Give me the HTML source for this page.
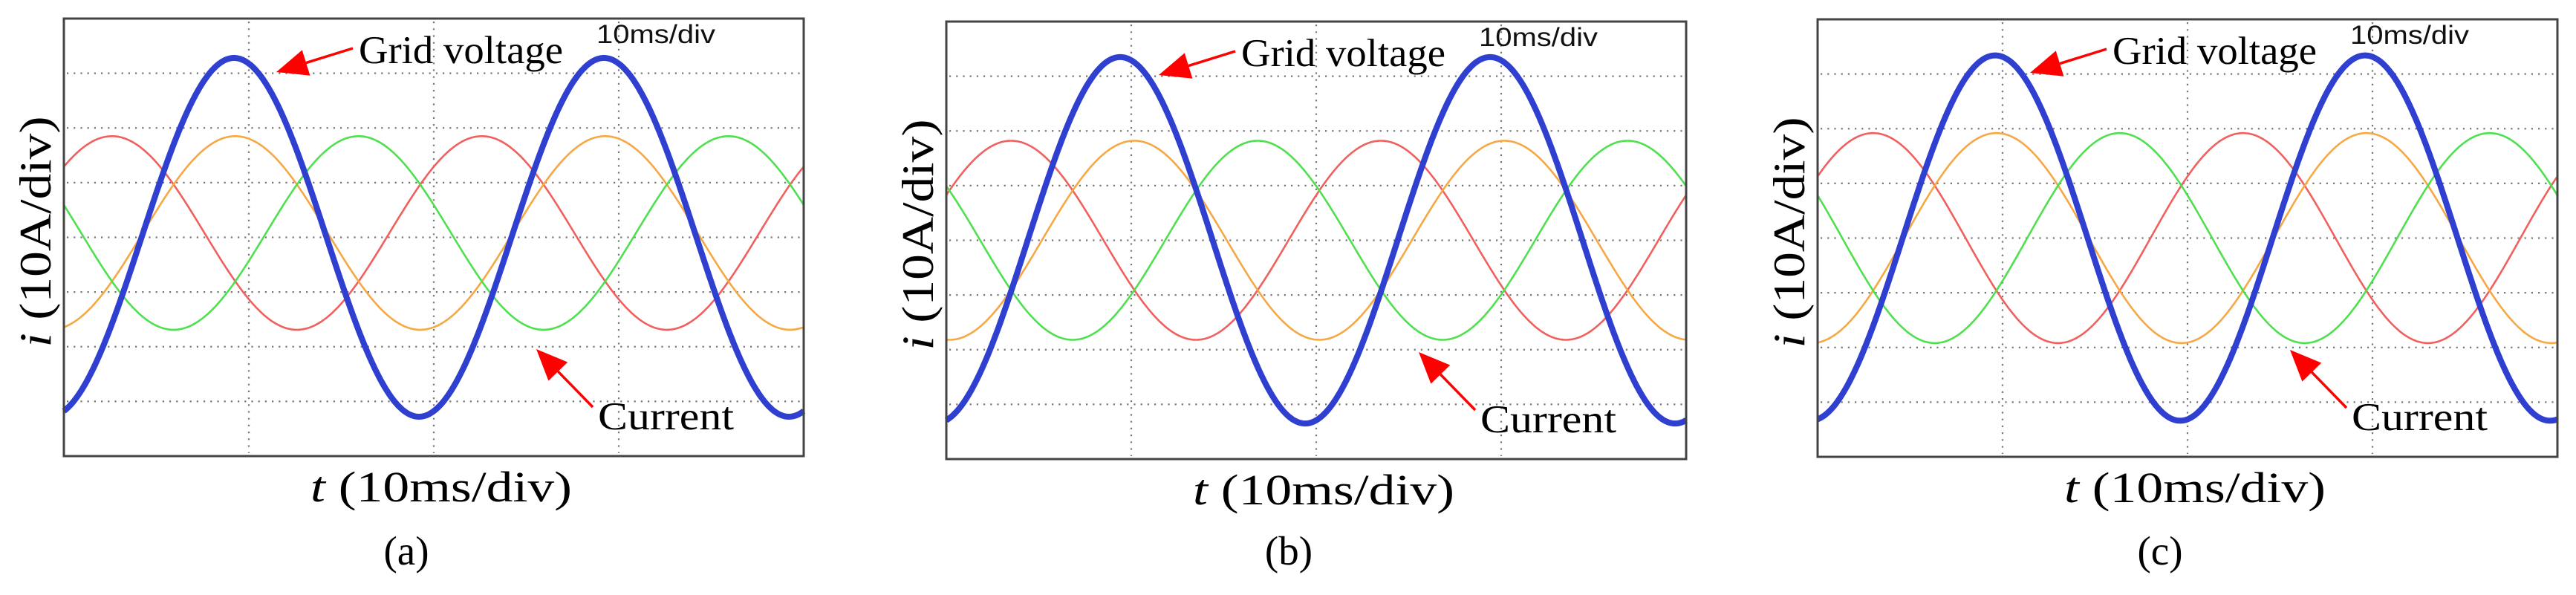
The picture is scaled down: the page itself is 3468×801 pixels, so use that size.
<!DOCTYPE html>
<html><head><meta charset="utf-8"><style>
html,body{margin:0;padding:0;background:#fff;}
svg{display:block;}
</style></head><body>
<svg id="fig" width="3468" height="801" viewBox="0 0 3468 801" xmlns="http://www.w3.org/2000/svg"></svg>
<script>
// Panel data. Time axis: 0-40 ms (10 ms/div), vertical: 8 div (10 A/div), 0 = centre.
const panelLabels = ['(a)', '(b)', '(c)'];
const voltagePeakMs = [9.2, 9.4, 9.6];     // time of first grid voltage peak
const voltageAmpDiv = [3.28, 3.35, 3.34];  // grid voltage amplitude in divisions
const currentPeakMs = [2.6, 3.5, 3.0];     // time of first red-phase current peak
const currentAmpDiv = [1.77, 1.82, 1.92];  // current amplitude in divisions
const currentOffsetDiv = [0.08, 0.0, 0.0];
const periodMs = [20, 20, 20];
const xTicks = [0, 10, 20, 30, 40];
const yTicks = [-4, -3, -2, -1, 0, 1, 2, 3, 4];

const NS = 'http://www.w3.org/2000/svg';
const svg = document.getElementById('fig');
const panelX = [86, 1274, 2447], panelY = [25, 29, 26];
const W = 996, H = 589;
const SERIF = "'Liberation Serif', serif";
const SANS = "'Liberation Sans', sans-serif";
function mk(tag, attrs, parent) {
  const e = document.createElementNS(NS, tag);
  for (const k in attrs) e.setAttribute(k, attrs[k]);
  parent.appendChild(e);
  return e;
}
const phaseColors = ['#f0605e', '#f5a843', '#4fe04f'];
const phaseNames = ['phase-a-current', 'phase-b-current', 'phase-c-current'];

for (let p = 0; p < 3; p++) {
  const g = mk('g', {transform: `translate(${panelX[p]},${panelY[p]})`}, svg);
  
  
  const xs = t => t / 40 * W;
  const ys = v => H / 2 - v * (H / 8);
  xTicks.slice(1, -1).forEach(t => {
    const l = mk('line', {x1: xs(t), x2: xs(t), y1: 4, y2: H - 4, stroke: '#777', 'stroke-width': 2.2, 'stroke-dasharray': '2.2 7'}, g);
    
    
  });
  yTicks.slice(1, -1).forEach(v => {
    const l = mk('line', {x1: 4, x2: W - 4, y1: ys(v), y2: ys(v), stroke: '#777', 'stroke-width': 2.2, 'stroke-dasharray': '2.2 7'}, g);
    
    
  });
  for (let k = 0; k < 3; k++) {
    let pts = [];
    for (let px = 0; px <= W; px += 2) {
      const t = px / W * 40;
      const v = currentOffsetDiv[p] + currentAmpDiv[p] * Math.cos(2 * Math.PI * (t - currentPeakMs[p] - k * periodMs[p] / 3) / periodMs[p]);
      pts.push(xs(t).toFixed(1) + ',' + ys(v).toFixed(1));
    }
    const pl = mk('polyline', {points: pts.join(' '), fill: 'none', stroke: phaseColors[k], 'stroke-width': 2.6}, g);
    
    
  }
  {
    let pts = [];
    for (let px = 0; px <= W; px += 2) {
      const t = px / W * 40;
      const v = voltageAmpDiv[p] * Math.cos(2 * Math.PI * (t - voltagePeakMs[p]) / periodMs[p]);
      pts.push(xs(t).toFixed(1) + ',' + ys(v).toFixed(1));
    }
    const pl = mk('polyline', {points: pts.join(' '), fill: 'none', stroke: '#2f3fd0', 'stroke-width': 8, 'stroke-linejoin': 'round'}, g);
    
    
  }
  const fr = mk('rect', {x: 0, y: 0, width: W, height: H, fill: 'none', stroke: '#444', 'stroke-width': 3}, g);
  
  
  const t1 = mk('text', {x: 717, y: 33, 'font-family': SANS, 'font-size': 35, textLength: 160, lengthAdjust: 'spacingAndGlyphs', fill: '#111'}, g);
  t1.textContent = '10ms/div';
  
  
  const t2 = mk('text', {x: 397, y: 60, 'font-family': SERIF, 'font-size': 53, textLength: 275, lengthAdjust: 'spacingAndGlyphs', fill: '#000'}, g);
  t2.textContent = 'Grid voltage';
  
  
  const t3 = mk('text', {x: 719, y: 553, 'font-family': SERIF, 'font-size': 53, textLength: 183, lengthAdjust: 'spacingAndGlyphs', fill: '#000'}, g);
  t3.textContent = 'Current';
  
  
  const arrows = [[[389, 40], [286, 72], 'grid-voltage-arrow'], [[712, 523], [636, 445], 'current-arrow']];
  arrows.forEach(([a, b, n]) => {
    const ag = mk('g', {}, g);
    
    
    const dx = b[0] - a[0], dy = b[1] - a[1], L = Math.hypot(dx, dy), ux = dx / L, uy = dy / L;
    const hl = 42, hw = 18;
    const bx = b[0] - ux * hl, by = b[1] - uy * hl;
    mk('line', {x1: a[0], y1: a[1], x2: bx, y2: by, stroke: '#f00', 'stroke-width': 3.5}, ag);
    mk('polygon', {points: `${b[0]},${b[1]} ${bx - uy * hw},${by + ux * hw} ${bx + uy * hw},${by - ux * hw}`, fill: '#f00'}, ag);
  });
  const xl = mk('text', {x: 332, y: 650, 'font-family': SERIF, 'font-size': 58, textLength: 352, lengthAdjust: 'spacingAndGlyphs', fill: '#000'}, g);
  xl.innerHTML = '<tspan font-style="italic">t</tspan> (10ms/div)';
  
  
  const yl = mk('text', {x: 0, y: 0, transform: `translate(-18,287) rotate(-90)`, 'text-anchor': 'middle', 'font-family': SERIF, 'font-size': 60, textLength: 311, lengthAdjust: 'spacingAndGlyphs', fill: '#000'}, g);
  yl.innerHTML = '<tspan font-style="italic">i</tspan> (10A/div)';
  
  
  const cap = mk('text', {x: 461, y: 760 - panelY[p], 'text-anchor': 'middle', 'font-family': SERIF, 'font-size': 55, fill: '#000'}, g);
  cap.textContent = panelLabels[p];
  
  
}
</script>
</body></html>
